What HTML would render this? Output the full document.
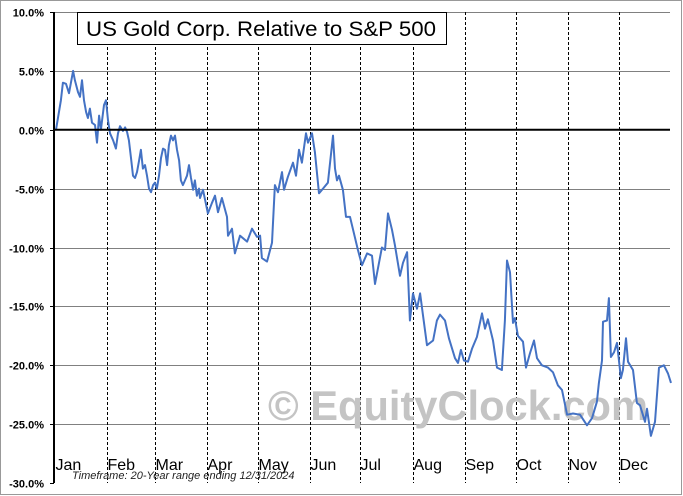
<!DOCTYPE html>
<html><head><meta charset="utf-8"><style>
html,body{margin:0;padding:0;background:#fff;}
svg{display:block;font-family:"Liberation Sans",sans-serif;}
</style></head><body>
<svg id="chart" width="683" height="496" viewBox="0 0 683 496" xmlns="http://www.w3.org/2000/svg">
<rect x="0.5" y="0.5" width="681" height="494" fill="#fff" stroke="#999" stroke-width="1"/>
<g id="grid"></g>
<g id="months"></g>
<text x="268" y="420" font-size="42" font-weight="bold" fill="#c4c4c4" textLength="380" lengthAdjust="spacingAndGlyphs">© EquityClock.com</text>
<g id="series"></g>
<g id="axis"></g>
<rect x="77.5" y="12.5" width="369" height="32" fill="#fff" stroke="#000" stroke-width="1"/>
<text x="86" y="36" font-size="21" fill="#000" textLength="350" lengthAdjust="spacingAndGlyphs">US Gold Corp. Relative to S&amp;P 500</text>
<text x="72" y="479" font-size="11" font-style="italic" fill="#222">Timeframe:  20-Year range ending 12/31/2024</text>
</svg>
<script>
const days=[1.2,4.1,5.3,7.1,8.9,11.3,12.4,14.2,15.4,16.6,17.8,19.0,20.1,21.3,22.5,24.3,25.5,26.7,27.8,29.6,30.8,32.0,33.2,35.0,36.7,37.9,39.1,40.9,42.1,43.3,44.4,45.6,46.8,48.0,49.2,50.4,51.5,52.7,53.9,55.1,56.3,57.5,58.7,59.8,61.0,62.2,63.4,64.6,65.8,67.0,68.1,69.3,70.5,71.7,72.9,74.1,75.2,76.4,77.6,78.8,80.0,81.2,82.4,83.5,84.7,85.9,86.5,88.3,91.2,93.6,95.4,97.2,99.5,102.5,103.1,105.5,107.2,110.2,114.4,117.3,120.3,122.1,123.2,126.2,129.2,130.9,132.7,135.1,136.3,138.6,141.6,143.4,145.2,146.9,149.3,150.5,152.9,154.6,157.0,159.4,162.3,165.3,166.5,167.7,168.9,171.2,173.0,175.4,177.2,180.1,182.5,185.5,188.4,190.2,194.3,196.1,197.9,200.3,202.0,205.0,206.8,209.2,210.9,212.7,215.1,216.9,218.6,221.0,224.6,226.9,228.7,231.7,234.0,237.6,239.4,241.1,242.9,245.3,247.7,250.6,253.6,255.4,257.1,260.1,262.5,265.4,267.2,268.4,270.2,272.0,273.1,274.9,277.9,279.7,282.0,284.4,286.2,289.1,292.7,295.7,298.6,301.0,304.0,307.5,311.7,315.8,318.8,321.7,322.9,324.7,325.3,327.7,328.8,330.0,331.8,333.6,335.9,337.1,338.9,340.1,343.1,345.4,347.2,350.2,351.4,353.7,356.1,358.5,361.4,363.8,365.6];
const values=[0.0,2.5,4.0,3.9,3.1,5.0,4.2,3.2,2.8,4.2,2.5,1.5,1.0,1.8,0.6,0.4,-1.1,1.2,0.0,2.1,2.5,0.8,-0.3,-0.9,-1.6,-0.3,0.3,-0.1,0.2,-0.2,-0.9,-2.4,-3.9,-4.1,-3.6,-2.6,-1.7,-3.3,-3.0,-3.9,-5.0,-5.3,-4.7,-4.5,-5.0,-3.9,-2.4,-1.6,-1.7,-3.0,-1.3,-0.5,-0.9,-0.5,-1.7,-2.6,-4.3,-4.7,-4.3,-3.9,-3.0,-4.1,-5.1,-4.3,-5.6,-5.0,-5.8,-5.1,-7.1,-6.2,-5.6,-7.0,-5.8,-7.4,-9.0,-8.4,-10.5,-9.0,-9.5,-8.4,-9.1,-9.0,-10.9,-11.2,-9.6,-4.7,-5.3,-3.6,-5.1,-4.0,-2.8,-3.9,-1.7,-2.8,-0.3,-1.1,-0.3,-1.9,-5.4,-5.0,-4.5,-0.5,-3.3,-4.3,-3.9,-5.1,-7.4,-7.4,-8.5,-10.2,-11.5,-10.5,-10.7,-13.1,-10.0,-10.2,-7.1,-8.5,-9.8,-12.4,-11.3,-10.4,-16.2,-13.9,-15.2,-13.9,-15.7,-18.3,-17.9,-16.2,-15.7,-16.2,-17.7,-19.4,-19.8,-18.7,-19.6,-19.7,-18.6,-17.6,-15.6,-16.9,-16.1,-17.9,-20.2,-20.4,-16.2,-11.1,-12.1,-16.4,-16.0,-17.5,-18.0,-20.2,-19.0,-17.9,-19.4,-20.0,-20.2,-20.6,-21.7,-22.1,-24.2,-24.1,-24.2,-25.1,-24.5,-23.1,-21.5,-19.6,-16.3,-16.2,-14.3,-19.3,-18.9,-18.1,-21.1,-20.4,-17.7,-19.7,-20.4,-23.2,-23.4,-24.8,-23.7,-26.0,-24.8,-20.2,-20.0,-20.7,-21.5];
const yTicks=[10,5,0,-5,-10,-15,-20,-25,-30];
const monthNames=["Jan","Feb","Mar","Apr","May","Jun","Jul","Aug","Sep","Oct","Nov","Dec"];
const monthStarts=[0,31,59,90,120,151,181,212,243,273,304,334];

const X0=54,X1=670,Y0=12,Y1=483;
const xs=d=>X0+d*(616/365);
const ys=v=>Y0+(10-v)*(Y1-Y0)/40;
const NS="http://www.w3.org/2000/svg";
function mk(tag,attrs,parent){const e=document.createElementNS(NS,tag);for(const k in attrs)e.setAttribute(k,attrs[k]);parent.appendChild(e);return e;}
const grid=document.getElementById('grid'),axis=document.getElementById('axis'),months=document.getElementById('months'),series=document.getElementById('series');

yTicks.forEach(t=>{
  const y=Math.round(ys(t))+0.5;
  if(t!==0&&t!==-30){
    const l=mk('line',{x1:X0,x2:X1,y1:y,y2:y,stroke:'#808080','stroke-width':1},grid);
    
    
  }
  const tk=mk('line',{x1:X0-4,x2:X0,y1:y,y2:y,stroke:'#000','stroke-width':1},axis);
  
  
  const tx=mk('text',{x:44,y:y+4,'text-anchor':'end','font-size':11,'font-weight':'bold',fill:'#000'},axis);
  tx.textContent=t.toFixed(1)+'%';
  
  
});

monthNames.forEach((m,i)=>{
  const x=Math.round(xs(monthStarts[i]))+1.5;
  if(i>0){
    const l=mk('line',{x1:x,x2:x,y1:Y0,y2:Y1,stroke:'#000','stroke-width':1,'stroke-dasharray':'3,2'},months);
    
    
  }
  const t=mk('text',{x:x,y:470,'font-size':16,fill:'#000'},months);
  t.textContent=m;
  
  
});

const zl=mk('line',{x1:X0,x2:X1,y1:ys(0),y2:ys(0),stroke:'#000','stroke-width':2},axis);


const ax=mk('line',{x1:X0,x2:X0,y1:Y0,y2:Y1,stroke:'#000','stroke-width':2},axis);



const pts=days.map((d,i)=>xs(d).toFixed(1)+','+ys(values[i]).toFixed(1)).join(' ');
const pl=mk('polyline',{points:pts,fill:'none',stroke:'#4472c4','stroke-width':2,'stroke-linejoin':'round'},series);


</script>
</body></html>
